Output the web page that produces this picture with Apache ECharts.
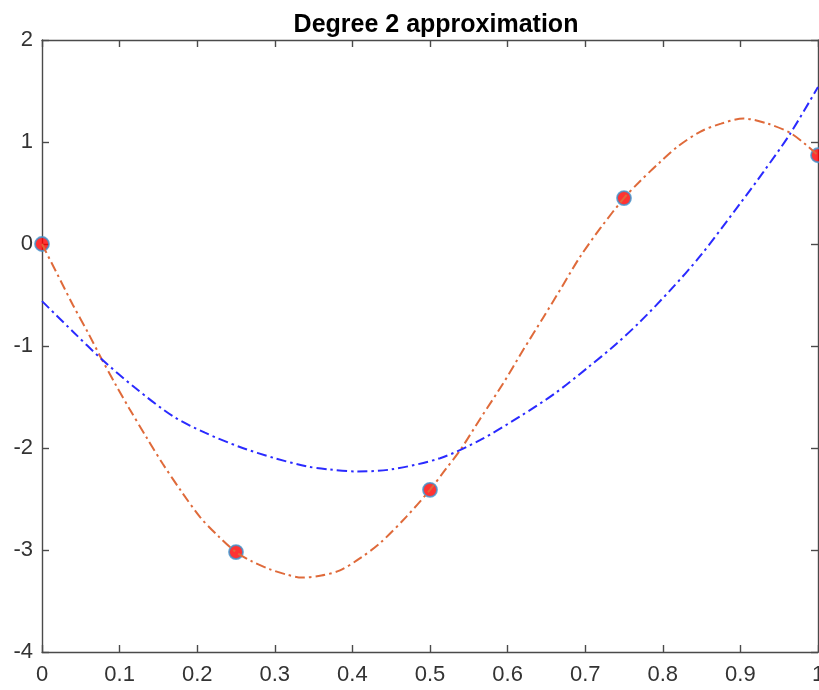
<!DOCTYPE html>
<html>
<head>
<meta charset="utf-8">
<script src="https://cdn.jsdelivr.net/npm/echarts@6/dist/echarts.min.js"></script>
<style>
html,body{margin:0;padding:0;background:#fff;}
#c{width:819px;height:690px;}
</style>
</head>
<body>
<div id="c"></div>
<script>
const titleText = 'Degree 2 approximation';
const pointX = [0, 0.25, 0.5, 0.75, 1];
const pointY = [0, -3.02, -2.41, 0.45, 0.87];
const interpX = [0, 0.02, 0.04, 0.06, 0.077, 0.095, 0.113, 0.135, 0.156, 0.18, 0.204, 0.228, 0.25, 0.27, 0.294, 0.315, 0.335, 0.36, 0.384, 0.41, 0.436, 0.47, 0.5, 0.52, 0.539, 0.565, 0.594, 0.62, 0.646, 0.67, 0.693, 0.72, 0.75, 0.77, 0.796, 0.82, 0.848, 0.875, 0.904, 0.935, 0.964, 0.985, 1];
const interpY = [0, -0.30, -0.60, -0.88, -1.13, -1.38, -1.62, -1.90, -2.16, -2.43, -2.68, -2.87, -3.02, -3.11, -3.19, -3.24, -3.27, -3.25, -3.20, -3.08, -2.93, -2.67, -2.41, -2.21, -2.02, -1.71, -1.37, -1.04, -0.72, -0.42, -0.13, 0.16, 0.45, 0.61, 0.80, 0.96, 1.10, 1.18, 1.23, 1.18, 1.09, 0.97, 0.87];
const fitX = [0, 0.04, 0.077, 0.12, 0.169, 0.21, 0.255, 0.30, 0.341, 0.37, 0.406, 0.45, 0.513, 0.565, 0.616, 0.66, 0.702, 0.74, 0.771, 0.81, 0.848, 0.9, 0.93, 0.964, 1];
const fitY = [-0.56, -0.86, -1.13, -1.41, -1.69, -1.85, -1.99, -2.10, -2.18, -2.21, -2.23, -2.21, -2.10, -1.92, -1.69, -1.47, -1.22, -0.98, -0.76, -0.45, -0.12, 0.40, 0.71, 1.08, 1.54];

const zip = (xs, ys) => xs.map((x, i) => [x, ys[i]]);
const axisColor = '#4a4a4a';
const labelFont = { color: '#333333', fontSize: 22, fontFamily: 'Liberation Sans, Arial, sans-serif' };
const lineAx = { show: true, onZero: false, lineStyle: { color: axisColor, width: 1.4 } };
const tickAx = { show: true, inside: true, length: 7, lineStyle: { color: axisColor, width: 1.4 } };

const chart = echarts.init(document.getElementById('c'), null, { renderer: 'canvas' });
chart.setOption({
  animation: false,
  backgroundColor: '#ffffff',
  title: {
    text: titleText,
    left: 431, top: 8, textAlign: 'center',
    textStyle: { fontSize: 25, fontWeight: 'bold', color: '#000', fontFamily: 'Liberation Sans, Arial, sans-serif' }
  },
  grid: { left: 42, right: 1, top: 40, bottom: 38, containLabel: false, outerBoundsMode: 'none' },
  xAxis: [
    { type: 'value', min: 0, max: 1, interval: 0.1, position: 'bottom',
      axisLine: lineAx, axisTick: tickAx,
      axisLabel: Object.assign({ margin: 12, showMinLabel: true, showMaxLabel: true }, labelFont),
      splitLine: { show: false } },
    { type: 'value', min: 0, max: 1, interval: 0.1, position: 'top',
      axisLine: lineAx, axisTick: tickAx,
      axisLabel: { show: false }, splitLine: { show: false } }
  ],
  yAxis: [
    { type: 'value', min: -4, max: 2, interval: 1, position: 'left',
      axisLine: lineAx, axisTick: tickAx,
      axisLabel: Object.assign({ margin: 9 }, labelFont),
      splitLine: { show: false } },
    { type: 'value', min: -4, max: 2, interval: 1, position: 'right',
      axisLine: lineAx, axisTick: tickAx,
      axisLabel: { show: false }, splitLine: { show: false } }
  ],
  series: [
    { type: 'scatter', data: zip(pointX, pointY), symbol: 'circle', symbolSize: 14, clip: false, z: 2,
      itemStyle: { color: '#ff0000', borderColor: '#3d95d0', borderWidth: 1.8 } },
    { type: 'line', data: zip(interpX, interpY), smooth: 0.3, showSymbol: false, z: 3,
      lineStyle: { color: '#DF6A3A', width: 2, type: [10, 4, 2.5, 4] } },
    { type: 'line', data: zip(fitX, fitY), smooth: 0.3, showSymbol: false, z: 3,
      lineStyle: { color: '#2a2aff', width: 2, type: [10, 4, 2.5, 4] } }
  ]
});
</script>
</body>
</html>
